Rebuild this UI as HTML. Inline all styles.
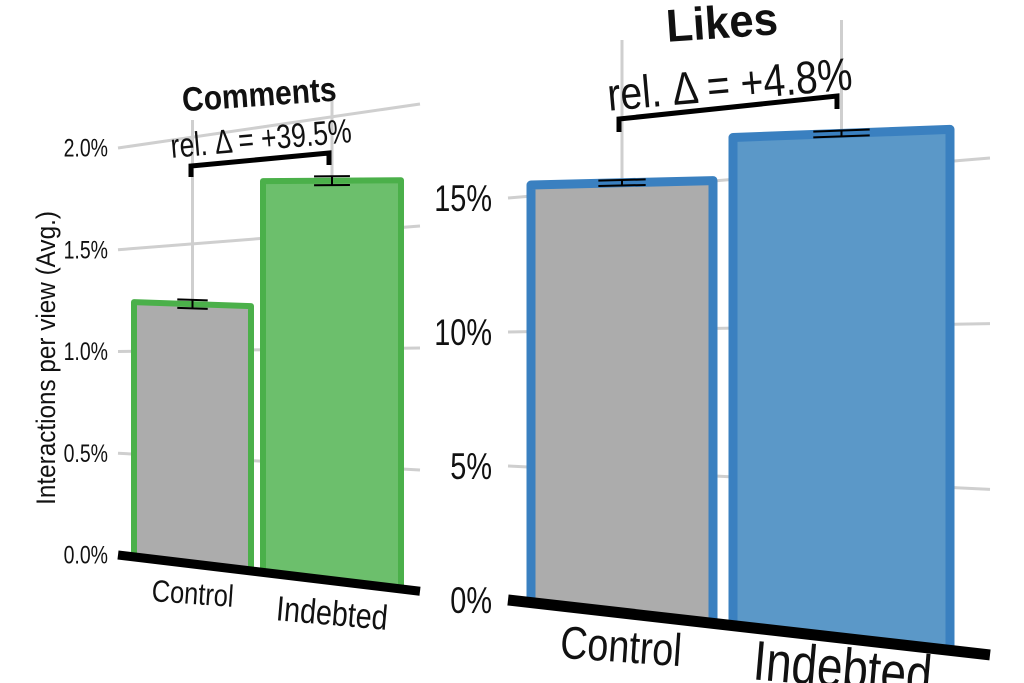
<!DOCTYPE html>
<html><head><meta charset="utf-8"><style>
html,body{margin:0;padding:0;background:#fff;width:1024px;height:683px;overflow:hidden}
svg{display:block}
text{font-family:"Liberation Sans",sans-serif}
</style></head><body>
<svg id="chart" width="1024" height="683" viewBox="0 0 1024 683" xmlns="http://www.w3.org/2000/svg"></svg>
<script>
const categories = ["Control", "Indebted"];
const commentsValues = [1.23, 1.81];
const commentsErr = [0.02, 0.02];
const commentsTicks = [0, 0.5, 1.0, 1.5, 2.0];
const commentsTickLabels = ["0.0%", "0.5%", "1.0%", "1.5%", "2.0%"];
const likesValues = [15.7, 17.2];
const likesErr = [0.1, 0.1];
const likesTicks = [0, 5, 10, 15];
const likesTickLabels = ["0%", "5%", "10%", "15%"];
const commentsDelta = "rel. Δ = +39.5%";
const likesDelta = "rel. Δ = +4.8%";

const svg = document.getElementById('chart');
const NS = "http://www.w3.org/2000/svg";
function mk(tag, attrs, parent) {
  const e = document.createElementNS(NS, tag);
  for (const k in attrs) e.setAttribute(k, attrs[k]);
  (parent || svg).appendChild(e);
  return e;
}
// grid plane
function makePanel(x0, x1, yl0, ylTop, yr0, yrTop, vTop, base0, baseSlope, s0, sSlope) {
  return {
    y: (x, v) => {
      const t = (x - x0) / (x1 - x0);
      const yl = yl0 - (yl0 - ylTop) * v / vTop;
      const yr = yr0 - (yr0 - yrTop) * v / vTop;
      return yl + (yr - yl) * t;
    },
    by: (x, v) => base0 + (x - x0) * baseSlope - v * (s0 + (x - x0) * sSlope),
    x0, x1
  };
}
const P1 = makePanel(118, 420, 555, 148, 592, 104, 2.0, 555, 0.12, 206, 0.07);
const P2 = makePanel(508, 990, 600, 198, 655, 158, 15, 600, 0.114, 26.4, 0.0088);

function drawPanel(P, name, ticks, tickLabels, values, errs, bars, colors, fs, labelX, tickFs, catFs, catPos) {
  const g = mk('g', {});
  
  
  ticks.forEach((t, i) => {
    if (t === 0) return;
    const l = mk('line', {x1: P.x0, y1: P.y(P.x0, t), x2: P.x1, y2: P.y(P.x1, t), stroke: '#cfcfcf', 'stroke-width': 3}, g);
    
    
  });
  ticks.forEach((t, i) => {
    const tx = mk('text', {x: labelX, y: P.y(P.x0, t) + tickFs * 0.35, 'text-anchor': 'end', 'font-size': tickFs, fill: '#111', transform: `translate(${labelX},0) scale(0.78,1) translate(${-labelX},0)`}, g);
    tx.textContent = tickLabels[i];
    
    
  });
  bars.forEach((b, i) => {
    const cx = (b[0] + b[1]) / 2;
    const l = mk('line', {x1: cx, y1: b[2], x2: cx, y2: P.by(cx, values[i]), stroke: '#cfcfcf', 'stroke-width': 3}, g);
    
    
  });
  bars.forEach((b, i) => {
    const [xa, xb] = b;
    const pts = [[xa, P.by(xa, 0)], [xa, P.by(xa, values[i])], [xb, P.by(xb, values[i])], [xb, P.by(xb, 0)]];
    const p = mk('polygon', {points: pts.map(p => p.join(',')).join(' '), fill: colors.fill[i], stroke: colors.stroke, 'stroke-width': colors.sw, 'stroke-linejoin': 'round'}, g);
    
    
    const cx = (xa + xb) / 2, w = (xb - xa) * 0.13;
    const eg = mk('g', {stroke: '#000', 'stroke-width': 2}, g);
    
    
    mk('line', {x1: cx - w, y1: P.by(cx - w, values[i] + errs[i]), x2: cx + w, y2: P.by(cx + w, values[i] + errs[i])}, eg);
    mk('line', {x1: cx - w, y1: P.by(cx - w, values[i] - errs[i]), x2: cx + w, y2: P.by(cx + w, values[i] - errs[i])}, eg);
    mk('line', {x1: cx, y1: P.by(cx, values[i] + errs[i]), x2: cx, y2: P.by(cx, values[i] - errs[i])}, eg);
  });
  const bl = mk('line', {x1: P.x0, y1: P.by(P.x0, 0), x2: P.x1, y2: P.by(P.x1, 0), stroke: '#000', 'stroke-width': fs}, g);
  
  
  categories.forEach((c, i) => {
    const [x, y, r] = catPos[i];
    const t = mk('text', {x: 0, y: 0, 'text-anchor': 'middle', 'font-size': catFs[i], fill: '#111', transform: `translate(${x},${y}) rotate(${r}) scale(0.82,1)`}, g);
    t.textContent = c;
    
    
  });
}

drawPanel(P1, 'comments', commentsTicks, commentsTickLabels, commentsValues, commentsErr,
  [[134, 251, 120], [263, 401, 95]],
  {fill: ['#acacac', '#6cbf6c'], stroke: '#4bb04a', sw: 6}, 9, 108, 25, [31, 35],
  [[192, 604, 4], [331, 625, 5]]);
drawPanel(P2, 'likes', likesTicks, likesTickLabels, likesValues, likesErr,
  [[531, 713, 40], [733, 950, 20]],
  {fill: ['#acacac', '#5b98c8'], stroke: '#3a80c0', sw: 9}, 11, 492, 37, [46, 56],
  [[620, 662, 4], [841, 687, 5]]);

function bracket(name, pts) {
  const p = mk('polyline', {points: pts.map(p => p.join(',')).join(' '), fill: 'none', stroke: '#000', 'stroke-width': 5});
  
  
}
bracket('comments-bracket', [[191, 177], [191, 166], [329, 153], [329, 165]]);
bracket('likes-bracket', [[619, 132], [619, 119], [837, 96], [837, 109]]);

function label(name, txt, x, y, r, fs, weight, sx) {
  const t = mk('text', {x: 0, y: 0, 'text-anchor': 'middle', 'font-size': fs, 'font-weight': weight, fill: '#111', transform: `translate(${x},${y}) rotate(${r}) scale(${sx},1)`});
  t.textContent = txt;
  
  
}
label('comments-title', 'Comments', 260, 106, -4, 34, 'bold', 0.88);
label('comments-delta', commentsDelta, 262, 150, -5, 34, 'normal', 0.78);
label('likes-title', 'Likes', 723, 38, -4, 46, 'bold', 0.95);
label('likes-delta', likesDelta, 731, 100, -5, 46, 'normal', 0.85);
label('y-axis-title', 'Interactions per view (Avg.)', 0, 0, 0, 27, 'normal', 1);
svg.lastChild.setAttribute('transform', 'translate(55,358) rotate(-90) scale(0.9,1)');
</script>
</body></html>
